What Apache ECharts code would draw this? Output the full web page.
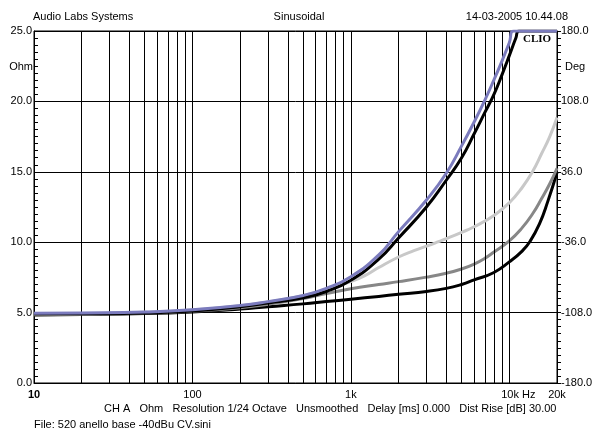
<!DOCTYPE html>
<html><head><meta charset="utf-8">
<script src="https://cdn.jsdelivr.net/npm/echarts@6/dist/echarts.min.js"></script>
<style>html,body{margin:0;padding:0;background:#fff}#c{width:598px;height:432px}</style>
</head><body><div id="c"></div>
<script>
// ---- data ----
const gridFreqs = [20,30,40,50,60,70,80,90,100,200,300,400,500,600,700,800,900,1000,2000,3000,4000,5000,6000,7000,8000,9000,10000];
const xTickLabels = {10:'10', 100:'100', 1000:'1k', 10000:'10k Hz', 20000:'20k'};

// lavender (top) curve, Ohm
const freqA = [10,20,50,100,200,300,500,700,1000,1500,2000,3000,4000,5000,6000,7000,8000,9000,10000,10680,20000];
const ohmA  = [4.95,4.97,5.04,5.2,5.5,5.78,6.22,6.72,7.55,9.1,10.75,13.0,14.9,16.84,18.54,20.08,21.53,22.88,24.17,25,25];

// thick black curve
const freqB = [10,20,50,100,200,300,500,700,1000,1500,2000,3000,4000,5000,6000,7000,8000,9000,10000,11000,11530,20000];
const ohmB  = [4.9,4.92,4.98,5.12,5.42,5.68,6.05,6.5,7.3,8.8,10.3,12.5,14.4,16.0,17.7,19.2,20.5,21.9,23.25,24.5,25,25];

// light grey curve
const freqC = [10,20,50,100,200,300,500,700,1000,1260,1500,2000,2500,3000,3500,4000,5000,6000,8000,10000,12000,14000,16000,18000,20000];
const ohmC  = [4.88,4.92,5.02,5.18,5.48,5.76,6.2,6.65,7.2,7.7,8.2,8.95,9.4,9.72,10.0,10.25,10.7,11.1,11.9,12.8,13.85,15.0,16.3,17.5,18.85];

// mid grey curve
const freqD = [10,20,50,100,200,300,500,700,1000,1500,2000,3000,4000,5000,6000,7000,8000,10000,12000,14000,16000,18000,20000];
const ohmD  = [4.85,4.88,4.97,5.1,5.35,5.6,6.0,6.35,6.7,7.0,7.2,7.52,7.8,8.1,8.45,8.85,9.3,10.1,11.0,12.0,13.1,14.15,15.25];

// lower black curve
const freqE = [10,20,50,100,200,300,500,700,1000,1500,2000,3000,4000,5000,6000,8000,10000,12000,13500,15500,17500,20000];
const ohmE  = [4.83,4.86,4.93,5.05,5.25,5.42,5.62,5.78,5.95,6.15,6.3,6.5,6.72,7.0,7.32,7.85,8.6,9.35,10.05,11.3,12.9,14.95];

const zip = (f, z) => f.map((v, i) => [v, z[i]]);
const FONT = 'Liberation Sans, Arial, sans-serif';
const TS = {fontSize: 11, fontWeight: 'normal', color: '#000', fontFamily: FONT};

const chart = echarts.init(document.getElementById('c'), null, {renderer: 'canvas'});
function curve(name, f, z, color, zz) {
  return {name, type: 'line', data: zip(f, z), showSymbol: false, smooth: 0.5,
    clip: true, z: zz, lineStyle: {color, width: 3, join: 'round'}, itemStyle: {color}};
}
chart.setOption({
  animation: false,
  backgroundColor: '#fff',
  textStyle: {fontFamily: FONT},
  title: [
    {text: 'Audio Labs Systems', left: 33, top: 11, padding: 0, textStyle: TS},
    {text: 'Sinusoidal', left: 'center', top: 11, padding: 0, textStyle: TS},
    {text: '14-03-2005 10.44.08', right: 30, top: 11, padding: 0, textStyle: TS},
    {text: 'CH A   Ohm   Resolution 1/24 Octave   Unsmoothed   Delay [ms] 0.000   Dist Rise [dB] 30.00', left: 104, top: 403, padding: 0, textStyle: TS},
    {text: 'File: 520 anello base -40dBu CV.sini', left: 34, top: 419, padding: 0, textStyle: TS},
    {text: 'CLIO', left: 523, top: 34, padding: 0, textStyle: {fontSize: 11, fontWeight: 'bold', color: '#000', fontFamily: 'Liberation Serif, Times New Roman, serif'}}
  ],
  grid: {left: 34, right: 41, top: 31, bottom: 49, show: true, borderColor: '#000', borderWidth: 1, containLabel: false},
  xAxis: {
    type: 'log', logBase: 10, min: 10, max: 20000,
    axisLine: {show: true, lineStyle: {color: '#000', width: 1}},
    axisTick: {show: false},
    splitLine: {show: false},
    axisLabel: {
      color: '#000', fontSize: 11, fontFamily: FONT, margin: 6, showMaxLabel: true, showMinLabel: true,
      formatter: v => {
        const k = Math.round(v);
        if (k === 10) return '{b|10}';
        if (k === 10000) return '{h|10k Hz}';
        return xTickLabels[k] || '';
      },
      rich: {
        b: {fontWeight: 'bold', fontSize: 11, color: '#000', fontFamily: FONT},
        h: {padding: [0, 0, 0, 18], fontSize: 11, color: '#000', fontFamily: FONT}
      }
    }
  },
  yAxis: [
    {
      type: 'value', min: 0, max: 25, interval: 5, position: 'left',
      name: 'Ohm', nameLocation: 'end', nameGap: -36,
      nameTextStyle: {align: 'right', verticalAlign: 'middle', padding: [0, 1, 0, 0], color: '#000', fontSize: 11, fontFamily: FONT},
      axisLine: {show: true, lineStyle: {color: '#000', width: 1}},
      axisTick: {show: true, inside: true, length: 4, lineStyle: {color: '#000'}},
      minorTick: {show: true, splitNumber: 10, length: 4, lineStyle: {color: '#000'}},
      splitLine: {show: true, lineStyle: {color: '#000', width: 1}},
      axisLabel: {color: '#000', fontSize: 11, fontFamily: FONT, margin: 2, formatter: v => v.toFixed(1)}
    },
    {
      type: 'value', min: -180, max: 180, interval: 72, position: 'right',
      name: 'Deg', nameLocation: 'end', nameGap: -36,
      nameTextStyle: {align: 'left', verticalAlign: 'middle', padding: [0, 0, 0, 8], color: '#000', fontSize: 11, fontFamily: FONT},
      axisLine: {show: true, lineStyle: {color: '#000', width: 1}},
      axisTick: {show: true, inside: false, length: 4, lineStyle: {color: '#000'}},
      minorTick: {show: true, splitNumber: 10, length: 4, lineStyle: {color: '#000'}},
      splitLine: {show: false},
      axisLabel: {color: '#000', fontSize: 11, fontFamily: FONT, margin: 4, formatter: v => v.toFixed(1)}
    }
  ],
  series: [
    {type: 'line', data: [], z: 1, silent: true,
      markLine: {silent: true, symbol: ['none', 'none'], label: {show: false}, animation: false,
        lineStyle: {color: '#000', width: 1, type: 'solid'},
        emphasis: {disabled: true},
        data: gridFreqs.map(f => ({xAxis: f}))}},
    curve('E', freqE, ohmE, '#000000', 3),
    curve('D', freqD, ohmD, '#878787', 4),
    curve('C', freqC, ohmC, '#c8c8c8', 5),
    curve('B', freqB, ohmB, '#000000', 6),
    curve('A', freqA, ohmA, '#7b7bbd', 7)
  ]
});
</script>
</body></html>
